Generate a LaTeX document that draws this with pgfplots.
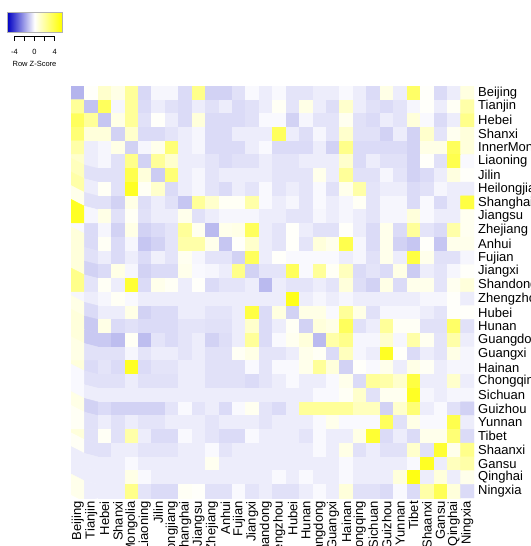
\documentclass[border=0pt]{standalone}
\usepackage{pgfplots}
\usepackage{pgfplotstable}
\pgfplotsset{compat=1.18}
\usepackage{fontspec}
\setmainfont{Liberation Sans}
\definecolor{keyblue}{RGB}{0,0,195}

% row z-scores, one heatmap row per source line (Beijing ... Ningxia), columns Beijing ... Ningxia
\pgfplotstableread[row sep=\\, header=false]{
-1.59\\ 0.11\\ 1.08\\ 0.54\\ 2.16\\ -0.83\\ -0.19\\ -0.19\\ -0.76\\ 2.48\\ -0.95\\ -0.95\\ -0.64\\ -0.13\\ -0.38\\ -0.13\\ -0.57\\ -0.57\\ -0.38\\ -0.38\\ -0.13\\ -0.38\\ -0.76\\ 0.54\\ -0.38\\ 3.24\\ 0.11\\ -0.76\\ -0.38\\ 0.65\\
2.16\\ -1.27\\ 3.46\\ -0.19\\ 2.16\\ -0.76\\ -0.38\\ -0.64\\ -0.76\\ -0.38\\ -0.64\\ -0.38\\ -0.76\\ -0.64\\ -0.38\\ 0.22\\ -0.57\\ 0.54\\ -0.38\\ -0.70\\ 1.08\\ -0.38\\ -0.64\\ -0.76\\ -0.57\\ -0.19\\ 0.11\\ -0.38\\ 0.22\\ 1.84\\
3.46\\ 2.16\\ -1.21\\ 0.54\\ 2.16\\ -0.64\\ 0.11\\ -0.38\\ -0.76\\ 0.76\\ -0.76\\ -0.76\\ -0.76\\ -0.64\\ -0.13\\ -0.13\\ -0.95\\ -0.19\\ -0.57\\ -0.57\\ 0.32\\ -0.64\\ -0.76\\ -0.38\\ -0.57\\ 0.76\\ -0.13\\ -0.76\\ -0.38\\ 2.48\\
2.92\\ 0.76\\ 0.76\\ -0.95\\ 1.08\\ -0.76\\ -0.76\\ -0.57\\ -0.38\\ -0.19\\ -0.76\\ -0.76\\ -0.38\\ -0.38\\ -0.38\\ 3.46\\ -0.38\\ -0.70\\ -0.19\\ -0.57\\ 1.08\\ -0.64\\ -0.64\\ -0.95\\ -0.38\\ -0.95\\ 1.08\\ -0.57\\ 0.32\\ 0.76\\
1.84\\ -0.38\\ -0.19\\ 0.54\\ -0.95\\ -0.19\\ 0.43\\ 2.92\\ -0.38\\ -0.19\\ -0.76\\ -0.76\\ -0.76\\ -0.38\\ -0.13\\ -0.76\\ -0.76\\ -0.76\\ -0.38\\ -0.95\\ 2.48\\ -0.76\\ -0.76\\ -0.76\\ -0.76\\ -0.95\\ 0.54\\ 0.54\\ 3.46\\ 0.76\\
1.08\\ -0.38\\ -0.19\\ -0.64\\ 2.48\\ -0.95\\ 2.16\\ 1.08\\ -0.38\\ -0.38\\ -0.57\\ -0.76\\ -0.64\\ -0.64\\ -0.38\\ -0.57\\ -0.57\\ -0.38\\ -0.38\\ -0.38\\ 1.08\\ -0.76\\ -0.38\\ -0.64\\ -0.64\\ -0.95\\ 0.11\\ -0.64\\ 3.78\\ -0.13\\
1.40\\ -0.64\\ -0.64\\ -0.64\\ 3.78\\ 0.76\\ -1.08\\ 2.92\\ -0.38\\ -0.19\\ -0.57\\ -0.38\\ -0.38\\ -0.38\\ -0.38\\ -0.57\\ -0.57\\ -0.57\\ 0.43\\ -0.38\\ 2.16\\ -0.64\\ -0.64\\ -0.19\\ -0.57\\ -0.95\\ -0.76\\ -0.38\\ 0.65\\ 0.11\\
1.84\\ -0.38\\ 0.22\\ -0.64\\ 4.64\\ 0.22\\ 1.08\\ -0.76\\ -0.38\\ -0.19\\ -0.57\\ -0.76\\ -0.38\\ -0.57\\ -0.13\\ -0.57\\ -0.38\\ -0.57\\ -0.13\\ -0.64\\ 0.43\\ 1.84\\ -0.57\\ -0.38\\ -0.38\\ -0.76\\ -0.64\\ -0.19\\ -0.38\\ -0.38\\
0.43\\ -0.64\\ -0.64\\ -0.95\\ 0.54\\ -0.70\\ -0.38\\ -0.64\\ -1.21\\ 2.16\\ 1.08\\ 0.22\\ 0.22\\ 1.84\\ -0.13\\ -0.38\\ -0.19\\ -0.57\\ -0.13\\ -0.38\\ -0.19\\ 0.22\\ -0.57\\ -0.19\\ -0.19\\ -0.76\\ -0.13\\ -0.76\\ -0.38\\ 4.00\\
4.64\\ -0.19\\ 0.54\\ -0.64\\ 0.22\\ -0.64\\ -0.38\\ -0.38\\ 0.43\\ -0.64\\ -0.38\\ -0.19\\ -0.19\\ -0.19\\ -0.38\\ -0.38\\ -0.57\\ -0.57\\ -0.19\\ -0.38\\ -0.19\\ -0.38\\ -0.57\\ -0.19\\ -0.19\\ 0.76\\ -0.13\\ -0.38\\ -0.38\\ 0.32\\
-0.13\\ -0.76\\ -0.19\\ -0.95\\ 0.54\\ -0.95\\ -0.76\\ -0.57\\ 2.16\\ 0.32\\ -1.46\\ 0.43\\ 0.54\\ 3.46\\ -0.38\\ -0.57\\ 0.11\\ -0.38\\ -0.64\\ -0.64\\ 0.11\\ -0.38\\ -0.76\\ 0.43\\ -0.76\\ 2.16\\ -0.57\\ -0.76\\ 1.84\\ 0.32\\
0.76\\ -0.76\\ 0.22\\ -0.76\\ -0.19\\ -1.21\\ -0.95\\ -0.57\\ 1.84\\ 1.84\\ 0.43\\ -1.21\\ 0.11\\ 1.08\\ -0.38\\ -0.57\\ 0.11\\ -0.57\\ 0.76\\ 0.43\\ 3.78\\ -0.19\\ -0.76\\ 0.43\\ -0.95\\ -1.21\\ 0.11\\ -1.21\\ 0.43\\ 0.43\\
0.76\\ -0.64\\ -0.38\\ -0.76\\ -0.38\\ -0.76\\ -0.32\\ -0.57\\ 0.32\\ -0.19\\ -0.57\\ -0.57\\ -0.95\\ 3.46\\ -0.38\\ 0.11\\ -0.13\\ -0.13\\ -0.13\\ -0.13\\ -0.38\\ -0.19\\ -0.64\\ 0.43\\ -0.38\\ 4.00\\ 0.43\\ -0.64\\ -0.64\\ -0.19\\
0.76\\ -0.95\\ -0.76\\ 0.54\\ -0.19\\ -0.95\\ -0.76\\ -0.76\\ 0.43\\ -0.13\\ -0.19\\ -0.38\\ 2.48\\ -0.95\\ -0.57\\ -0.57\\ 3.46\\ -0.13\\ 2.16\\ 0.22\\ 1.40\\ -0.76\\ -0.57\\ -0.76\\ 0.54\\ -1.08\\ -0.38\\ -0.57\\ -0.19\\ 0.11\\
2.48\\ -0.57\\ 0.22\\ -0.38\\ 4.32\\ -0.76\\ 0.43\\ 0.22\\ -0.38\\ 0.11\\ -0.76\\ -0.57\\ -0.57\\ -0.38\\ -1.46\\ -0.38\\ -0.57\\ -0.57\\ -0.38\\ -0.57\\ 0.76\\ -0.70\\ -0.95\\ 0.54\\ -0.76\\ 0.43\\ 0.43\\ -0.57\\ 0.32\\ 0.76\\
-0.19\\ -0.38\\ -0.19\\ 0.22\\ -0.13\\ -0.38\\ -0.38\\ -0.38\\ -0.38\\ -0.38\\ -0.38\\ -0.38\\ -0.38\\ -0.38\\ -0.38\\ -0.38\\ 4.86\\ -0.38\\ -0.19\\ -0.38\\ -0.19\\ -0.38\\ -0.38\\ -0.38\\ -0.38\\ -0.38\\ -0.19\\ -0.19\\ 0.11\\ -0.38\\
0.54\\ -0.76\\ -0.38\\ -0.38\\ 0.54\\ -0.95\\ -0.76\\ -0.76\\ -0.38\\ -0.38\\ -0.57\\ -0.57\\ -0.38\\ 4.00\\ -0.76\\ 0.65\\ -0.95\\ 0.54\\ 0.54\\ -0.13\\ 2.16\\ 0.54\\ -0.64\\ -0.19\\ -0.19\\ -0.19\\ -0.38\\ -0.57\\ 0.11\\ 0.11\\
0.76\\ -1.14\\ 0.54\\ -0.76\\ -0.64\\ -0.76\\ -0.76\\ -0.76\\ -0.57\\ -0.57\\ -0.64\\ -0.64\\ -0.38\\ 1.08\\ -0.76\\ -0.38\\ 0.22\\ -0.95\\ 0.76\\ 0.54\\ 3.46\\ -0.64\\ -0.38\\ 2.16\\ 0.22\\ 0.22\\ -0.64\\ -0.64\\ 3.24\\ -0.64\\
0.76\\ -1.14\\ -1.14\\ -1.40\\ 0.22\\ -1.40\\ -0.57\\ -0.76\\ -0.57\\ -0.38\\ -0.95\\ -0.70\\ -0.38\\ 2.16\\ -0.76\\ -0.13\\ 0.32\\ 0.76\\ -1.46\\ 1.84\\ 2.48\\ -0.19\\ -0.19\\ 1.08\\ -0.19\\ 1.84\\ 0.32\\ -0.57\\ 1.84\\ -0.38\\
0.54\\ -0.64\\ -0.64\\ -0.64\\ -0.19\\ -0.57\\ -0.38\\ -0.38\\ -0.57\\ -0.38\\ -0.64\\ -0.64\\ 0.22\\ 0.54\\ -0.57\\ -0.57\\ -0.38\\ 0.43\\ 0.22\\ -0.76\\ 1.40\\ -0.19\\ -0.38\\ 4.64\\ 0.11\\ -0.76\\ -0.38\\ -0.57\\ 0.54\\ -0.19\\
0.76\\ -0.76\\ -0.57\\ -0.76\\ 4.64\\ -0.76\\ -0.57\\ -0.57\\ -0.38\\ -0.38\\ -0.64\\ -0.64\\ -0.64\\ -0.13\\ -0.57\\ -0.13\\ -0.13\\ 0.43\\ 2.16\\ 0.76\\ -0.95\\ 0.11\\ -0.13\\ 0.43\\ -0.38\\ 0.54\\ 0.22\\ -0.38\\ -0.19\\ -0.19\\
-0.13\\ -0.64\\ -0.64\\ -0.64\\ -0.38\\ -0.64\\ -0.64\\ -0.64\\ -0.38\\ -0.38\\ -0.64\\ -0.64\\ -0.64\\ -0.76\\ -0.57\\ -0.38\\ -0.13\\ -0.38\\ -0.38\\ -0.13\\ 0.43\\ -0.76\\ 2.16\\ 1.84\\ 1.08\\ 4.00\\ -0.38\\ -0.38\\ 1.08\\ -0.38\\
-0.13\\ -0.38\\ -0.38\\ -0.38\\ -0.38\\ -0.38\\ -0.38\\ -0.38\\ -0.38\\ -0.38\\ -0.38\\ -0.38\\ -0.38\\ -0.38\\ -0.38\\ -0.38\\ -0.38\\ -0.38\\ -0.13\\ -0.13\\ 0.22\\ 1.08\\ -0.64\\ 0.32\\ 0.32\\ 4.64\\ -0.19\\ -0.38\\ -0.19\\ -0.19\\
0.54\\ -0.95\\ -0.76\\ -0.95\\ -0.95\\ -0.95\\ -0.95\\ -0.57\\ -0.13\\ -0.57\\ -0.38\\ -0.76\\ -0.13\\ 0.32\\ -0.57\\ -0.76\\ -0.38\\ 2.16\\ 2.16\\ 2.16\\ 2.16\\ 1.40\\ 1.40\\ -0.95\\ 1.08\\ 2.92\\ -0.38\\ -0.13\\ -0.64\\ -0.95\\
0.22\\ -0.64\\ -0.38\\ -0.64\\ -0.38\\ -0.57\\ -0.57\\ -0.38\\ -0.38\\ -0.38\\ -0.57\\ -0.38\\ -0.38\\ -0.38\\ -0.57\\ -0.38\\ -0.38\\ -0.38\\ -0.13\\ 0.43\\ -0.13\\ -0.13\\ -0.13\\ 3.46\\ -0.64\\ 0.54\\ -0.13\\ -0.13\\ 3.78\\ -0.38\\
0.76\\ -0.64\\ 0.22\\ -0.64\\ 1.84\\ -0.38\\ -0.76\\ -0.76\\ -0.13\\ -0.38\\ -0.57\\ -0.76\\ -0.76\\ -0.13\\ -0.38\\ -0.38\\ -0.38\\ -0.57\\ -0.13\\ -0.38\\ -0.38\\ 0.54\\ 4.32\\ -0.76\\ -0.38\\ -0.76\\ 0.43\\ 0.43\\ 2.92\\ -0.76\\
0.22\\ -0.64\\ -0.64\\ -0.38\\ -0.38\\ -0.57\\ -0.57\\ -0.57\\ -0.38\\ -0.38\\ -0.13\\ -0.57\\ -0.38\\ -0.38\\ -0.38\\ -0.38\\ -0.38\\ -0.38\\ -0.13\\ -0.38\\ 0.54\\ -0.64\\ -0.38\\ -0.64\\ -0.64\\ 1.08\\ -0.64\\ 4.32\\ 0.43\\ 2.48\\
-0.38\\ -0.38\\ -0.38\\ -0.38\\ -0.13\\ -0.38\\ -0.38\\ -0.38\\ -0.38\\ -0.38\\ 0.32\\ -0.38\\ -0.38\\ -0.38\\ -0.38\\ -0.38\\ -0.38\\ -0.38\\ -0.38\\ -0.38\\ -0.13\\ -0.38\\ -0.38\\ -0.38\\ -0.38\\ -0.13\\ 4.64\\ -0.38\\ 1.40\\ 1.84\\
-0.38\\ -0.38\\ -0.38\\ -0.38\\ 0.54\\ -0.13\\ -0.38\\ -0.38\\ -0.38\\ -0.38\\ -0.38\\ -0.38\\ -0.38\\ -0.38\\ -0.38\\ -0.13\\ -0.38\\ -0.13\\ -0.38\\ -0.38\\ -0.13\\ -0.38\\ -0.38\\ -0.38\\ 0.76\\ 5.00\\ -0.38\\ 0.76\\ -0.38\\ 0.43\\
0.43\\ -0.38\\ -0.38\\ -0.38\\ 2.48\\ -0.57\\ -0.76\\ -0.76\\ 0.22\\ 0.11\\ -0.64\\ -0.64\\ -0.13\\ -0.57\\ -0.38\\ -0.64\\ -0.64\\ -0.38\\ -0.13\\ -0.38\\ 0.76\\ -0.64\\ -0.64\\ -0.76\\ -0.13\\ -0.76\\ 1.84\\ 3.60\\ 0.76\\ -0.76\\
}\heat

\begin{document}
\begin{tikzpicture}
\useasboundingbox (0,0) rectangle (530pt,-546pt);

% colour key
\begin{axis}[at={(7.3pt,-12.3pt)}, anchor=north west, scale only axis,
  width=54.4pt, height=20pt, xmin=-5.4, xmax=5.4, ymin=0, ymax=1,
  hide axis, clip=false]
  \shade[left color=keyblue, right color=yellow, middle color=white]
    (axis cs:-5.4,0) rectangle (axis cs:5.4,1);
  \draw[gray!60, line width=0.4pt] (axis cs:-5.4,0) rectangle (axis cs:5.4,1);
  \draw[line width=0.5pt] ([yshift=-4.4pt]axis cs:-4,0) -- ([yshift=-4.4pt]axis cs:4,0);
  \draw[line width=0.5pt] ([yshift=-4.4pt]axis cs:-4,0) -- ([yshift=-9pt]axis cs:-4,0);
  \draw[line width=0.5pt] ([yshift=-4.4pt]axis cs:-2,0) -- ([yshift=-9pt]axis cs:-2,0);
  \draw[line width=0.5pt] ([yshift=-4.4pt]axis cs:0,0) -- ([yshift=-9pt]axis cs:0,0);
  \draw[line width=0.5pt] ([yshift=-4.4pt]axis cs:2,0) -- ([yshift=-9pt]axis cs:2,0);
  \draw[line width=0.5pt] ([yshift=-4.4pt]axis cs:4,0) -- ([yshift=-9pt]axis cs:4,0);
  \node[font=\fontsize{7.5}{7.5}\selectfont] at ([yshift=-19.4pt]axis cs:-4,0) {-4};
  \node[font=\fontsize{7.5}{7.5}\selectfont] at ([yshift=-19.4pt]axis cs:0,0) {0};
  \node[font=\fontsize{7.5}{7.5}\selectfont] at ([yshift=-19.4pt]axis cs:4,0) {4};
  \node[font=\fontsize{7.5}{7.5}\selectfont] at ([yshift=-31.7pt]axis cs:0,0) {Row Z-Score};
\end{axis}

% heatmap
\begin{axis}[at={(71pt,-86pt)}, anchor=north west, scale only axis,
  width=403pt, height=412pt,
  xmin=-0.5, xmax=29.5, ymin=-0.5, ymax=29.5, y dir=reverse,
  enlargelimits=false, axis line style={draw=none}, major tick length=0pt,
  xtick={0,...,29}, ytick={0,...,29},
  xticklabels={Beijing,Tianjin,Hebei,Shanxi,InnerMongolia,Liaoning,Jilin,Heilongjiang,Shanghai,Jiangsu,Zhejiang,Anhui,Fujian,Jiangxi,Shandong,Zhengzhou,Hubei,Hunan,Guangdong,Guangxi,Hainan,Chongqing,Sichuan,Guizhou,Yunnan,Tibet,Shaanxi,Gansu,Qinghai,Ningxia},
  yticklabels={Beijing,Tianjin,Hebei,Shanxi,InnerMongolia,Liaoning,Jilin,Heilongjiang,Shanghai,Jiangsu,Zhejiang,Anhui,Fujian,Jiangxi,Shandong,Zhengzhou,Hubei,Hunan,Guangdong,Guangxi,Hainan,Chongqing,Sichuan,Guizhou,Yunnan,Tibet,Shaanxi,Gansu,Qinghai,Ningxia},
  yticklabel pos=right, ytick pos=right,
  xticklabel style={rotate=90, anchor=east, inner sep=3pt, font=\fontsize{13}{13}\selectfont},
  yticklabel style={anchor=west, inner sep=4pt, font=\fontsize{13}{13}\selectfont},
  colormap={heat}{rgb255(0cm)=(0,0,195); rgb255(1cm)=(255,255,255); rgb255(2cm)=(255,255,0)},
  point meta min=-5.4, point meta max=5.4]
  \addplot[matrix plot*, mesh/cols=30, point meta=explicit]
    table[x index=0, y index=0, meta index=0, x expr={mod(\coordindex,30)}, y expr={floor(\coordindex/30)}] {\heat};
\end{axis}
\end{tikzpicture}
\end{document}
